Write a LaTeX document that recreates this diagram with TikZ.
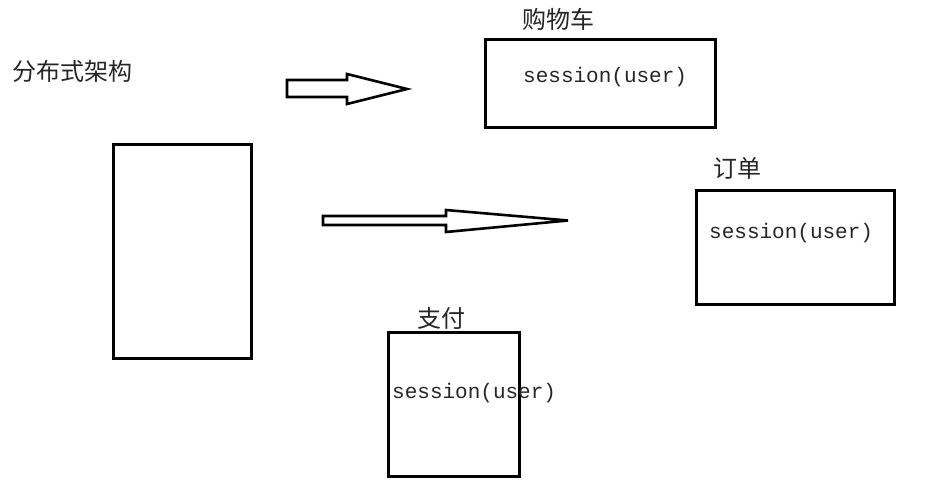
\documentclass[tikz,border=0pt]{standalone}
\usepackage{fontspec}
\newfontfamily\cjk{Noto Sans CJK SC}
\newfontfamily\monofnt{Liberation Mono}
\begin{document}
\begin{tikzpicture}[x=1pt,y=-1pt,
  box/.style={draw=black,line width=3pt,inner sep=0pt,outer sep=0pt},
  blockarrow/.style={draw=black,line width=2.6pt,fill=white,line join=miter},
  cjklabel/.style={anchor=west,inner sep=0pt,text=black!85,font=\cjk\fontsize{24}{24}\selectfont},
  sess/.style={anchor=west,inner sep=0pt,text=black!85,font=\monofnt\fontsize{21}{21}\selectfont}]
\useasboundingbox[fill=white] (0,0) rectangle (934,484);
% boxes
\node[box,minimum width=138pt,minimum height=213pt] (main) at (182,251.5) {};
\node[box,minimum width=230pt,minimum height=88pt] (cart) at (600,84) {};
\node[box,minimum width=198pt,minimum height=114pt] (order) at (795,247) {};
\node[box,minimum width=131pt,minimum height=144pt] (pay) at (453.5,404) {};
% labels
\node[cjklabel] (title) at (12,71) {分布式架构};
\node[cjklabel] (cartlbl) at (522,19) {购物车};
\node[cjklabel] (orderlbl) at (713,168) {订单};
\node[cjklabel] (paylbl) at (417,318) {支付};
\node[sess] (s1) at (523,77) {session(user)};
\node[sess] (s2) at (709,233) {session(user)};
\node[sess] (s3) at (392,393) {session(user)};
% block arrows
\draw[blockarrow] (287,80) -- (347,80) -- (347,74) -- (407,89) -- (347,104) -- (347,97) -- (287,97) -- cycle;
\draw[blockarrow] (323,216) -- (446,216) -- (446,210) -- (568,220.5) -- (446,232) -- (446,225) -- (323,225) -- cycle;
\end{tikzpicture}
\end{document}
